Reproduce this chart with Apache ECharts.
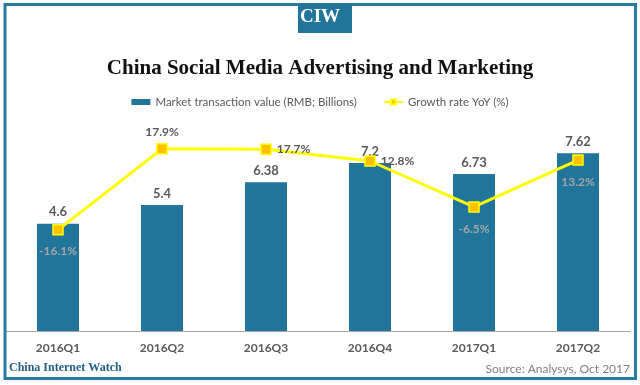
<!DOCTYPE html>
<html><head><meta charset="utf-8">
<script src="https://cdn.jsdelivr.net/npm/echarts@6/dist/echarts.min.js"></script>
<style>html,body{margin:0;padding:0;background:#fff}#c{width:640px;height:385px}</style>
</head><body><div id="c"></div>
<script>
var categories = ['2016Q1','2016Q2','2016Q3','2016Q4','2017Q1','2017Q2'];
var marketValue = [4.6, 5.4, 6.38, 7.2, 6.73, 7.62];
var growthRate = [-16.1, 17.9, 17.7, 12.8, -6.5, 13.2];
var growthLabelPos = ['bottom','top','right','right','bottom','bottom'];

var chart = echarts.init(document.getElementById('c'), null, {renderer:'canvas'});
var font = 'Lato, "DejaVu Sans", sans-serif';
var serif = '"Liberation Serif", "Times New Roman", serif';
var lineData = growthRate.map(function(v,i){
  var inside = growthLabelPos[i] === 'bottom';
  return {value:v, label:{position:growthLabelPos[i], color: inside ? '#a6a6a6' : '#595959', distance: inside ? 10 : 5}};
});
chart.setOption({
  animation:false,
  title:{text:'China Social Media Advertising and Marketing', left:'center', top:53,
    textStyle:{fontFamily:serif, fontWeight:'bold', fontSize:21, color:'#111'}},
  legend:{top:91, left:'center', itemGap:26, itemWidth:19, itemHeight:6,
    textStyle:{fontFamily:font, fontSize:11.5, color:'#595959'},
    data:[{name:'Market transaction value (RMB; Billions)', icon:'rect'},{name:'Growth rate YoY (%)'}]},
  grid:{left:6, right:10, top:121, bottom:54},
  xAxis:{type:'category', data:categories,
    axisLine:{lineStyle:{color:'#a6a6a6', width:1}}, axisTick:{show:false},
    axisLabel:{fontFamily:font, fontWeight:'bold', fontSize:12, color:'#595959', margin:11}},
  yAxis:[{type:'value', min:0, max:9, show:false, splitLine:{show:false}},
         {type:'value', min:-58.6, max:29.6, show:false, splitLine:{show:false}}],
  series:[
    {name:'Market transaction value (RMB; Billions)', type:'bar', data:marketValue, barWidth:42,
      itemStyle:{color:'#21759b'},
      label:{show:true, position:'top', distance:5, fontFamily:font, fontWeight:'bold', fontSize:13, color:'#595959'}},
    {name:'Growth rate YoY (%)', type:'line', yAxisIndex:1, data:lineData,
      symbol:'rect', symbolSize:10,
      lineStyle:{color:'#ffff00', width:3},
      itemStyle:{color:'#ffc000', borderColor:'#ffff00', borderWidth:1.5},
      label:{show:true, fontFamily:font, fontWeight:'bold', fontSize:12, formatter:function(p){return p.value+'%';}}}
  ],
  graphic:[
    {type:'rect', shape:{x:5, y:4.5, width:630.5, height:374}, style:{fill:'none', stroke:'#2a7ba1', lineWidth:3}, z:100},
    {type:'rect', shape:{x:298, y:4, width:54, height:29}, style:{fill:'#21759b'}, z:101},
    {type:'text', left:'center', top:8, style:{text:'CIW', fill:'#fff', font:'bold 19px '+serif}, z:102},
    {type:'text', left:9, top:362, style:{text:'China Internet Watch', fill:'#1f5f87', font:'bold 12px '+serif}, z:102},
    {type:'text', right:10, top:363, style:{text:'Source: Analysys, Oct 2017', fill:'#7f7f7f', font:'12px '+font}, z:102}
  ]
});
</script></body></html>
